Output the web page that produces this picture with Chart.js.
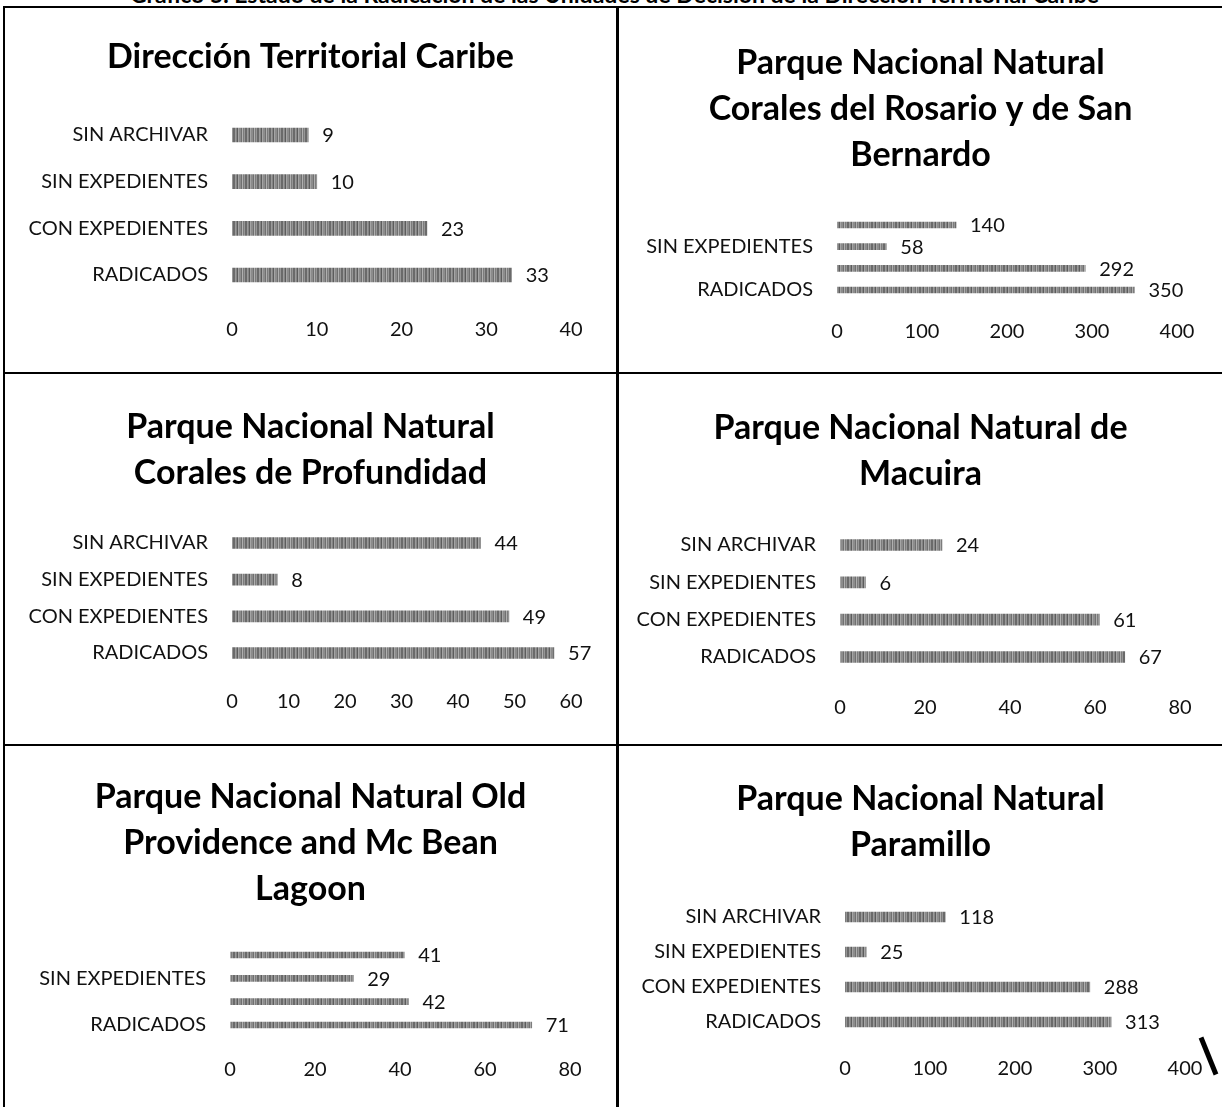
<!DOCTYPE html>
<html>
<head>
<meta charset="utf-8">
<script src="https://cdn.jsdelivr.net/npm/chart.js@4.4.0/dist/chart.umd.min.js"></script>
<style>
  body { margin: 0; background: #fff; width: 1222px; height: 1107px; overflow: hidden; position: relative; }
  .rule { position: absolute; background: #000; }
  #header { position: absolute; left: 130px; top: -19px; font: bold 23px Lato, sans-serif; line-height: 26px; white-space: nowrap; color: #000; }
  #mark { position: absolute; left: 1206px; top: 1036px; width: 5px; height: 40px; background: #000; transform: rotate(-22deg); }
</style>
</head>
<body>
<div id="header">Gráfico 5. Estado de la Radicación de las Unidades de Decisión de la Dirección Territorial Caribe</div>
<div class="rule" style="left:3px;top:6px;width:1219px;height:2px"></div>
<div class="rule" style="left:3px;top:6px;width:2px;height:1101px"></div>
<div class="rule" style="left:616px;top:6px;width:3px;height:1101px"></div>
<div class="rule" style="left:3px;top:372px;width:1219px;height:2px"></div>
<div class="rule" style="left:3px;top:744px;width:1219px;height:2px"></div>
<div id="mark"></div>

<script>
const categories = ['SIN ARCHIVAR', 'SIN EXPEDIENTES', 'CON EXPEDIENTES', 'RADICADOS'];

const titleCaribe = ['Dirección Territorial Caribe'];
const titleRosario = ['Parque Nacional Natural', 'Corales del Rosario y de San', 'Bernardo'];
const titleProfundidad = ['Parque Nacional Natural', 'Corales de Profundidad'];
const titleMacuira = ['Parque Nacional Natural de', 'Macuira'];
const titleOldProvidence = ['Parque Nacional Natural Old', 'Providence and Mc Bean', 'Lagoon'];
const titleParamillo = ['Parque Nacional Natural', 'Paramillo'];

const valuesCaribe = [9, 10, 23, 33];
const valuesRosario = [140, 58, 292, 350];
const valuesProfundidad = [44, 8, 49, 57];
const valuesMacuira = [24, 6, 61, 67];
const valuesOldProvidence = [41, 29, 42, 71];
const valuesParamillo = [118, 25, 288, 313];

const ticksCaribe = [0, 10, 20, 30, 40];
const ticksRosario = [0, 100, 200, 300, 400];
const ticksProfundidad = [0, 10, 20, 30, 40, 50, 60];
const ticksMacuira = [0, 20, 40, 60, 80];
const ticksOldProvidence = [0, 20, 40, 60, 80];
const ticksParamillo = [0, 100, 200, 300, 400];

const FONT = 'Lato, sans-serif';
const TICK_SIZE = 20;
const TITLE_SIZE = 34;
const LINE = 46; // title line height in px

// where each panel sits on the page
const panels = [
  { title: titleCaribe, values: valuesCaribe, ticks: ticksCaribe, every: 1,
    box: [5, 8, 611, 364], x0: 232, x1: 571, yFirst: 135, yLast: 275, tickY: 330, titleY: 57, bar: 14 },
  { title: titleRosario, values: valuesRosario, ticks: ticksRosario, every: 2,
    box: [619, 8, 603, 364], x0: 837, x1: 1177, yFirst: 225, yLast: 290, tickY: 332, titleY: 63, bar: 6 },
  { title: titleProfundidad, values: valuesProfundidad, ticks: ticksProfundidad, every: 1,
    box: [5, 374, 611, 370], x0: 232, x1: 571, yFirst: 543, yLast: 653, tickY: 702, titleY: 427, bar: 11 },
  { title: titleMacuira, values: valuesMacuira, ticks: ticksMacuira, every: 1,
    box: [619, 374, 603, 370], x0: 840, x1: 1180, yFirst: 545, yLast: 657, tickY: 708, titleY: 428, bar: 11 },
  { title: titleOldProvidence, values: valuesOldProvidence, ticks: ticksOldProvidence, every: 2,
    box: [5, 746, 611, 361], x0: 230, x1: 570, yFirst: 955, yLast: 1025, tickY: 1070, titleY: 797, bar: 6 },
  { title: titleParamillo, values: valuesParamillo, ticks: ticksParamillo, every: 1,
    box: [619, 746, 603, 361], x0: 845, x1: 1185, yFirst: 917, yLast: 1022, tickY: 1069, titleY: 799, bar: 10 },
];

// scanned bars look streaky grey, fake it with a small stripe tile
function barPattern() {
  const c = document.createElement('canvas');
  c.width = 12;
  c.height = 3;
  const g = c.getContext('2d');
  const cols = ['#6a6a6a', '#6a6a6a', '#9a9a9a', '#858585', '#5c5c5c', '#a5a5a5',
    '#8c8c8c', '#8c8c8c', '#707070', '#b0b0b0', '#7c7c7c', '#969696'];
  cols.forEach((col, i) => {
    g.fillStyle = col;
    g.fillRect(i, 0, 1, 3);
  });
  return g.createPattern(c, 'repeat');
}

const valueLabels = {
  id: 'valueLabels',
  afterDatasetsDraw(chart) {
    const ctx = chart.ctx;
    const meta = chart.getDatasetMeta(0);
    const data = chart.data.datasets[0].data;
    ctx.save();
    ctx.font = `${TICK_SIZE}px ${FONT}`;
    ctx.fillStyle = '#111';
    ctx.textBaseline = 'middle';
    meta.data.forEach((bar, i) => {
      ctx.fillText(data[i], bar.x + 14, bar.y + 1);
    });
    ctx.restore();
  },
};

panels.forEach((p) => {
  const [left, top, w, h] = p.box;
  const canvas = document.createElement('canvas');
  canvas.width = w;
  canvas.height = h;
  canvas.style.cssText = `position:absolute;left:${left}px;top:${top}px;width:${w}px;height:${h}px`;
  document.body.appendChild(canvas);

  const band = (p.yLast - p.yFirst) / (p.values.length - 1);
  const chartTop = p.yFirst - band / 2 - top;
  const chartBottom = p.yLast + band / 2 - top;
  const side = w - (p.x1 - left);
  const titlePadTop = p.titleY - top - LINE / 2;
  const titlePadBottom = chartTop - titlePadTop - p.title.length * LINE;
  const xHeight = 60;
  const tickLen = p.tickY - top - chartBottom - 3 - (TICK_SIZE * 1.2) / 2;

  new Chart(canvas, {
    type: 'bar',
    data: {
      labels: categories,
      datasets: [{
        data: p.values,
        backgroundColor: barPattern(),
        barThickness: p.bar,
        borderWidth: 0,
      }],
    },
    options: {
      indexAxis: 'y',
      responsive: false,
      animation: false,
      devicePixelRatio: 1,
      layout: { padding: { left: 0, right: 0, top: 0, bottom: h - chartBottom - xHeight } },
      plugins: {
        legend: { display: false },
        tooltip: { enabled: false },
        title: {
          display: true,
          text: p.title,
          color: '#000',
          font: { family: FONT, size: TITLE_SIZE, weight: 'bold', lineHeight: LINE / TITLE_SIZE },
          padding: { top: titlePadTop, bottom: titlePadBottom },
        },
      },
      scales: {
        x: {
          min: p.ticks[0],
          max: p.ticks[p.ticks.length - 1],
          grid: { display: false, drawTicks: true, tickLength: tickLen },
          border: { display: false },
          ticks: { stepSize: p.ticks[1] - p.ticks[0], padding: 3, color: '#111', font: { family: FONT, size: TICK_SIZE } },
          afterFit: (scale) => { scale.height = xHeight; },
        },
        y: {
          grid: { display: false, drawTicks: false },
          border: { display: false },
          ticks: {
            autoSkip: false,
            padding: 24,
            color: '#111',
            font: { family: FONT, size: TICK_SIZE },
            callback: (v, i) => (i % p.every === p.every - 1 ? categories[i] : ''),
          },
          afterFit: (scale) => { scale.width = p.x0 - left; },
        },
        // empty axis on the right keeps the plot narrower than the title box
        yRight: {
          type: 'category',
          axis: 'y',
          position: 'right',
          grid: { display: false, drawTicks: false },
          border: { display: false },
          ticks: { display: false },
          afterFit: (scale) => { scale.width = side; },
        },
      },
    },
    plugins: [valueLabels],
  });
});
</script>
</body>
</html>
